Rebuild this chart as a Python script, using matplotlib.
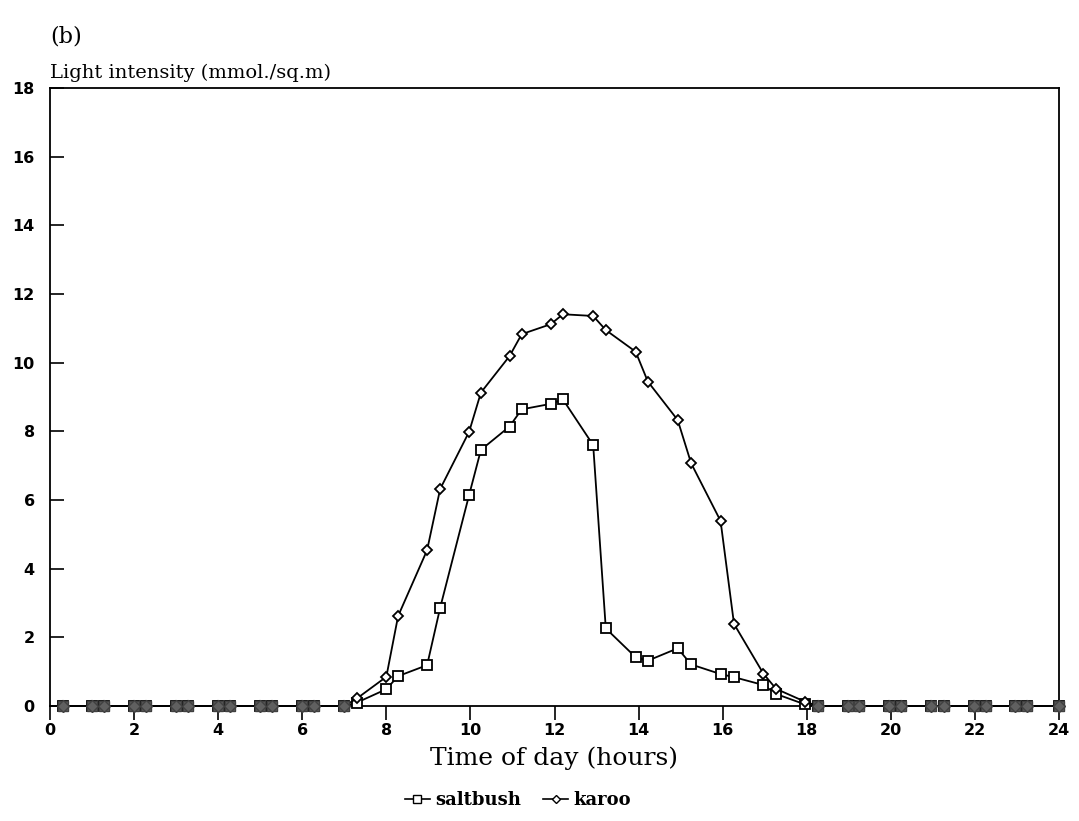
import numpy as np
from matplotlib import pyplot as plt
from matplotlib.lines import Line2D

# sample times (hours)
times = [0.3, 1.0, 1.28, 2.0, 2.28, 3.0, 3.28, 4.0, 4.28, 5.0, 5.28, 6.0, 6.28,
         7.0, 7.3, 8.0, 8.28, 8.97, 9.28, 9.97, 10.25, 10.93, 11.22, 11.91, 12.2,
         12.92, 13.22, 13.93, 14.22, 14.93, 15.25, 15.95, 16.27, 16.97, 17.27,
         17.95, 18.27, 18.97, 19.25, 19.96, 20.24, 20.95, 21.27, 21.98, 22.26,
         22.95, 23.24, 24.0]

saltbush = [0, 0, 0, 0, 0, 0, 0, 0, 0, 0, 0, 0, 0,
            0, 0.1, 0.49, 0.87, 1.19, 2.86, 6.15, 7.46, 8.14, 8.64, 8.80, 8.93,
            7.6, 2.26, 1.42, 1.32, 1.68, 1.21, 0.93, 0.84, 0.61, 0.35,
            0.05, 0, 0, 0, 0, 0, 0, 0, 0, 0,
            0, 0, 0]

karoo = [0, 0, 0, 0, 0, 0, 0, 0, 0, 0, 0, 0, 0,
         0, 0.22, 0.85, 2.62, 4.54, 6.32, 7.99, 9.13, 10.19, 10.83, 11.12, 11.41,
         11.36, 10.95, 10.32, 9.45, 8.33, 7.07, 5.39, 2.39, 0.94, 0.5,
         0.13, 0, 0, 0, 0, 0, 0, 0, 0, 0,
         0, 0, 0]

xticks = list(range(0, 25, 2))
yticks = list(range(0, 19, 2))

fig = plt.figure(figsize=(10.79, 8.21), dpi=100)
ax = fig.add_axes([50 / 1079, 1 - 706 / 821, (1059 - 50) / 1079, (706 - 88) / 821])

t = np.array(times)
s = np.array(saltbush)
k = np.array(karoo)

ax.plot(t, s, color="black", lw=1.3, marker="s", ms=7, mfc="white", mec="black", mew=1.3,
        zorder=3, clip_on=False)
ax.plot(t, k, color="black", lw=1.3, marker="D", ms=5, mfc="white", mec="black", mew=1.3,
        zorder=4, clip_on=False)

# zero readings print as grey blobs
zs = s == 0
zk = k == 0
ax.plot(t[zs], s[zs], ls="none", marker="s", ms=7, mfc="#606060", mec="#404040", mew=1,
        zorder=5, clip_on=False)
ax.plot(t[zk], k[zk], ls="none", marker="D", ms=6, mfc="#606060", mec="#404040", mew=1,
        zorder=5, clip_on=False)

ax.set_xlim(0, 24)
ax.set_ylim(0, 18)
ax.set_xticks(xticks)
ax.set_yticks(yticks)
ax.tick_params(axis="x", direction="out", length=10, width=1.2, pad=2, labelsize=11.5)
ax.tick_params(axis="y", direction="in", length=10, width=1.2, pad=11, labelsize=11.5)
for lab in ax.get_xticklabels() + ax.get_yticklabels():
    lab.set_fontweight("bold")
    lab.set_family("DejaVu Sans")
for sp in ax.spines.values():
    sp.set_linewidth(1.3)

ax.set_xlabel("Time of day (hours)", family="DejaVu Serif", fontsize=18, labelpad=6)
fig.text(50 / 1079, 1 - 78 / 821, "Light intensity (mmol./sq.m)", family="DejaVu Serif",
         fontsize=14, va="baseline", ha="left")
fig.text(50 / 1079, 1 - 42 / 821, "(b)", family="DejaVu Serif", fontsize=16,
         va="baseline", ha="left")

handles = [
    Line2D([], [], color="black", lw=1.2, marker="s", ms=6, mfc="white", mec="black"),
    Line2D([], [], color="black", lw=1.2, marker="D", ms=4, mfc="white", mec="black"),
]
fig.legend(handles, ["saltbush", "karoo"], loc="center", bbox_to_anchor=(0.48, 1 - 800 / 821),
           ncol=2, frameon=False, handlelength=1.4, handletextpad=0.3, columnspacing=1.2,
           prop={"family": "DejaVu Serif", "weight": "bold", "size": 13})

fig.savefig("out.png", dpi=100)
